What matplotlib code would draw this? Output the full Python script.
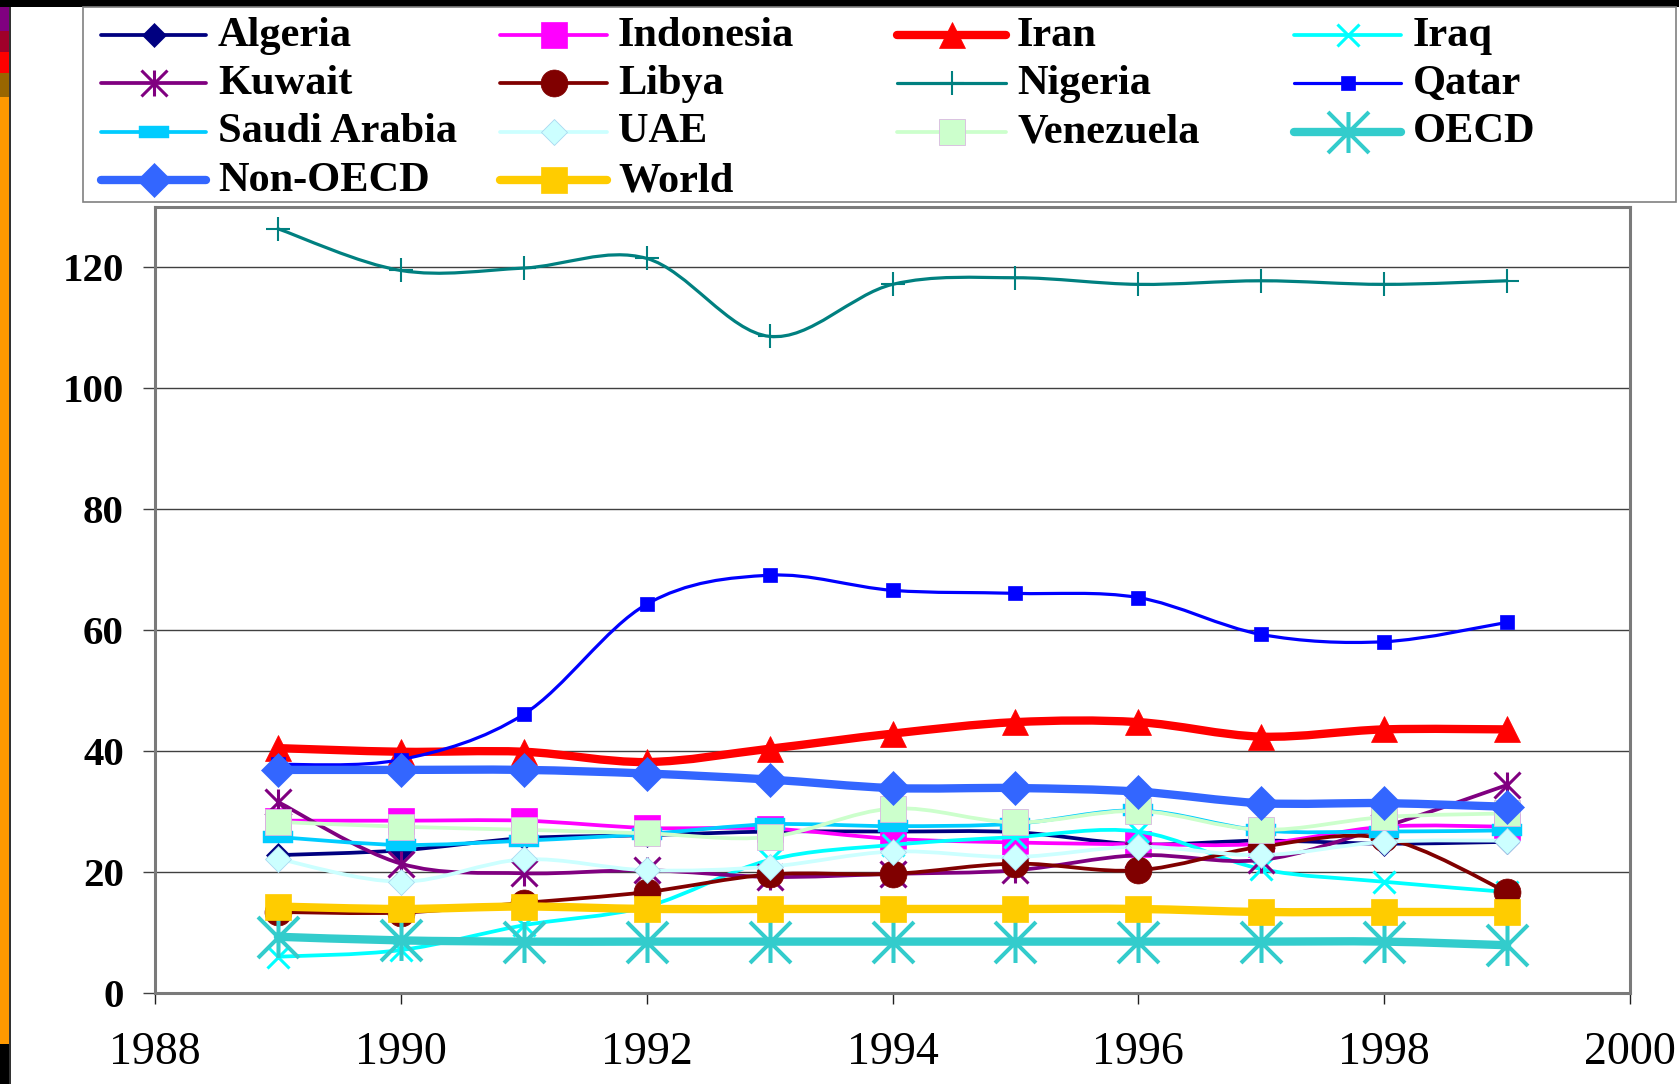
import numpy as np
import matplotlib
matplotlib.use("Agg")
import matplotlib.pyplot as plt
from matplotlib.path import Path
from matplotlib.patches import PathPatch, Rectangle
from matplotlib.lines import Line2D

# ---------------- data ----------------
years = [1989, 1990, 1991, 1992, 1993, 1994, 1995, 1996, 1997, 1998, 1999]
algeria = [22.8, 23.6, 25.6, 26.1, 26.7, 26.7, 26.6, 24.6, 25.2, 24.7, 25.0]
indonesia = [28.5, 28.5, 28.5, 27.3, 27.2, 25.5, 24.9, 24.6, 24.7, 27.5, 27.5]
iran = [40.5, 39.9, 39.9, 38.2, 40.4, 42.9, 44.8, 44.8, 42.4, 43.6, 43.6]
iraq = [6.0, 7.1, 11.2, 14.3, 22.0, 24.5, 25.8, 26.7, 20.5, 18.4, 16.7]
kuwait = [31.6, 21.4, 19.8, 20.3, 19.2, 19.7, 20.3, 22.8, 22.0, 27.5, 34.4]
libya = [13.4, 13.3, 14.9, 16.7, 19.6, 19.7, 21.4, 20.3, 24.2, 25.6, 16.7]
nigeria = [126.4, 119.5, 119.9, 121.5, 108.6, 117.2, 118.3, 117.2, 117.8, 117.2, 117.8]
qatar = [37.8, 38.6, 46.1, 64.3, 69.1, 66.6, 66.1, 65.4, 59.3, 58.1, 61.3]
saudi = [25.8, 24.5, 25.2, 26.3, 27.9, 27.6, 28.0, 30.2, 26.9, 26.7, 26.9]
uae = [22.2, 18.4, 22.1, 20.3, 20.9, 23.4, 22.5, 24.2, 22.8, 25.0, 25.2]
venezuela = [28.3, 27.5, 27.0, 26.4, 25.8, 30.5, 28.2, 30.1, 27.0, 29.1, 29.7]
oecd = [9.3, 8.7, 8.5, 8.5, 8.5, 8.5, 8.5, 8.5, 8.5, 8.5, 7.9]
non_oecd = [36.9, 36.9, 36.9, 36.3, 35.3, 33.9, 33.9, 33.3, 31.4, 31.4, 30.8]
world = [14.3, 13.9, 14.3, 13.9, 13.9, 13.9, 13.9, 13.9, 13.4, 13.4, 13.4]

series_names = ["Algeria", "Indonesia", "Iran", "Iraq", "Kuwait", "Libya",
                "Nigeria", "Qatar", "Saudi Arabia", "UAE", "Venezuela",
                "OECD", "Non-OECD", "World"]
series_values = [algeria, indonesia, iran, iraq, kuwait, libya, nigeria,
                 qatar, saudi, uae, venezuela, oecd, non_oecd, world]
x_ticks = [1988, 1990, 1992, 1994, 1996, 1998, 2000]
y_ticks = [0, 20, 40, 60, 80, 100, 120]

# ---------------- styles ----------------
STAR = Path([(-0.5, -0.5), (0.5, 0.5), (-0.5, 0.5), (0.5, -0.5), (0, -0.5), (0, 0.5)],
            [Path.MOVETO, Path.LINETO] * 3)
DASH = Path([(-0.5, -0.19), (0.5, -0.19), (0.5, 0.19), (-0.5, 0.19), (-0.5, -0.19)],
            [Path.MOVETO, Path.LINETO, Path.LINETO, Path.LINETO, Path.CLOSEPOLY])

thin, thick = 2.7, 6.0
styles = {
    "Algeria":      dict(c="#000080", lw=thin,  m="D",  ms=12.2, mfc="#000080", mec="#000080", mew=0.5),
    "Indonesia":    dict(c="#FF00FF", lw=thin,  m="s",  ms=18.7, mfc="#FF00FF", mec="#FF00FF", mew=0.5),
    "Iran":         dict(c="#FF0000", lw=thick, m="^",  ms=19.4, mfc="#FF0000", mec="#FF0000", mew=0.5),
    "Iraq":         dict(c="#00FFFF", lw=thin,  m="x",  ms=16.5, mfc="#00FFFF", mec="#00FFFF", mew=2.2),
    "Kuwait":       dict(c="#800080", lw=thin,  m=STAR, ms=18.7, mfc="none",    mec="#800080", mew=2.2),
    "Libya":        dict(c="#800000", lw=thin,  m="o",  ms=19.4, mfc="#800000", mec="#800000", mew=0.5),
    "Nigeria":      dict(c="#008080", lw=2.3,   m="+",  ms=17.0, mfc="#008080", mec="#008080", mew=1.5),
    "Qatar":        dict(c="#0000FF", lw=2.3,   m="s",  ms=9.4,  mfc="#0000FF", mec="#0000FF", mew=0.5),
    "Saudi Arabia": dict(c="#00CCFF", lw=thin,  m=DASH, ms=21.6, mfc="#00CCFF", mec="#00CCFF", mew=0.3),
    "UAE":          dict(c="#CCFFFF", lw=thin,  m="D",  ms=13.7, mfc="#CCFFFF", mec="#A8D8F0", mew=0.6),
    "Venezuela":    dict(c="#CCFFCC", lw=thin,  m="s",  ms=19.2, mfc="#CCFFCC", mec="#D8B8E0", mew=0.6),
    "OECD":         dict(c="#33CCCC", lw=thick, m=STAR, ms=29.5, mfc="none",    mec="#33CCCC", mew=2.9),
    "Non-OECD":     dict(c="#3366FF", lw=thick, m="D",  ms=17.3, mfc="#3366FF", mec="#3366FF", mew=0.5),
    "World":        dict(c="#FFCC00", lw=thick, m="s",  ms=18.7, mfc="#FFCC00", mec="#FFCC00", mew=0.5),
}


def smooth_path(x, y):
    pts = np.column_stack([np.asarray(x, float), np.asarray(y, float)])
    n = len(pts)
    verts = [pts[0]]
    codes = [Path.MOVETO]
    for i in range(n - 1):
        p0 = pts[i - 1] if i > 0 else pts[i]
        p1, p2 = pts[i], pts[i + 1]
        p3 = pts[i + 2] if i + 2 < n else pts[i + 1]
        verts += [p1 + (p2 - p0) / 6.0, p2 - (p3 - p1) / 6.0, p2]
        codes += [Path.CURVE4] * 3
    return Path(verts, codes)


W, H = 1679, 1084
SERIF = ["Liberation Serif", "DejaVu Serif"]
fig = plt.figure(figsize=(W / 100, H / 100), dpi=100)
fig.patch.set_facecolor("white")


def fx(px):
    return px / W


def fy(py):
    return 1 - py / H


# decorative left strip and top bar
for (y0, y1, col) in [(7, 31, "#800080"), (31, 52, "#A0002A"), (52, 73, "#FF0000"),
                      (73, 97, "#996600"), (97, 1044, "#FF9900"), (1044, 1084, "#000000")]:
    fig.add_artist(Rectangle((0, fy(y1)), fx(9), (y1 - y0) / H, transform=fig.transFigure,
                             facecolor=col, edgecolor="none", zorder=0))
fig.add_artist(Rectangle((fx(9), 0), fx(2), 1, transform=fig.transFigure,
                         facecolor="#333333", edgecolor="none", zorder=0))
fig.add_artist(Rectangle((0, fy(7)), 1, 7 / H, transform=fig.transFigure,
                         facecolor="#000000", edgecolor="none", zorder=0))

# ---------------- axes ----------------
ax = fig.add_axes([fx(155), fy(993), (1630 - 155) / W, (993 - 207) / H])
ax.set_xlim(1988, 2000)
ax.set_ylim(0, 130)
ax.set_xticks(x_ticks)
ax.set_yticks(y_ticks)
ax.set_xticklabels([str(v) for v in x_ticks], fontsize=33, family=SERIF)
ax.set_yticklabels([str(v) for v in y_ticks], fontsize=29.5, family=SERIF, fontweight="bold")
ax.tick_params(axis="x", direction="out", length=8, width=1, color="#202020", pad=20)
ax.tick_params(axis="y", direction="out", length=8.5, width=1, color="#404040", pad=14)
ax.yaxis.grid(True, color="#404040", linewidth=1.0)
ax.set_axisbelow(True)
for s in ax.spines.values():
    s.set_color("#7a7a7a")
    s.set_linewidth(2.2)

for i, (name, vals) in enumerate(zip(series_names, series_values)):
    st = styles[name]
    z = 3 + i * 0.01
    patch = PathPatch(smooth_path(years, vals), fill=False, edgecolor=st["c"],
                      linewidth=st["lw"], capstyle="round", joinstyle="round", zorder=z)
    ax.add_patch(patch)
    ax.plot(years, vals, linestyle="none", marker=st["m"], markersize=st["ms"],
            markerfacecolor=st["mfc"], markeredgecolor=st["mec"], markeredgewidth=st["mew"],
            zorder=z + 0.005, clip_on=False)

# ---------------- legend (manual, 4 columns) ----------------
fig.add_artist(Rectangle((fx(83), fy(202)), (1676 - 83) / W, (202 - 7) / H,
                         transform=fig.transFigure, facecolor="white",
                         edgecolor="#808080", linewidth=1.2, zorder=1))
col_h0 = [101, 500, 897, 1294]
col_h1 = [206, 607, 1006, 1401]
col_t = [218, 618, 1017, 1413]
row_y = [35, 83, 131.5, 180]
for k, name in enumerate(series_names):
    r, c = divmod(k, 4)
    st = styles[name]
    y = fy(row_y[r])
    fig.add_artist(Line2D([fx(col_h0[c]), fx(col_h1[c])], [y, y], transform=fig.transFigure,
                          color=st["c"], linewidth=st["lw"], solid_capstyle="round", zorder=2))
    fig.add_artist(Line2D([fx((col_h0[c] + col_h1[c]) / 2)], [y], transform=fig.transFigure,
                          linestyle="none", marker=st["m"], markersize=st["ms"],
                          markerfacecolor=st["mfc"], markeredgecolor=st["mec"],
                          markeredgewidth=st["mew"], zorder=3))
    fig.text(fx(col_t[c]), fy(row_y[r] + 11), name, fontsize=30.5, fontweight="bold",
             family=SERIF, ha="left", va="baseline", zorder=4)

fig.savefig("out.png", dpi=100)
